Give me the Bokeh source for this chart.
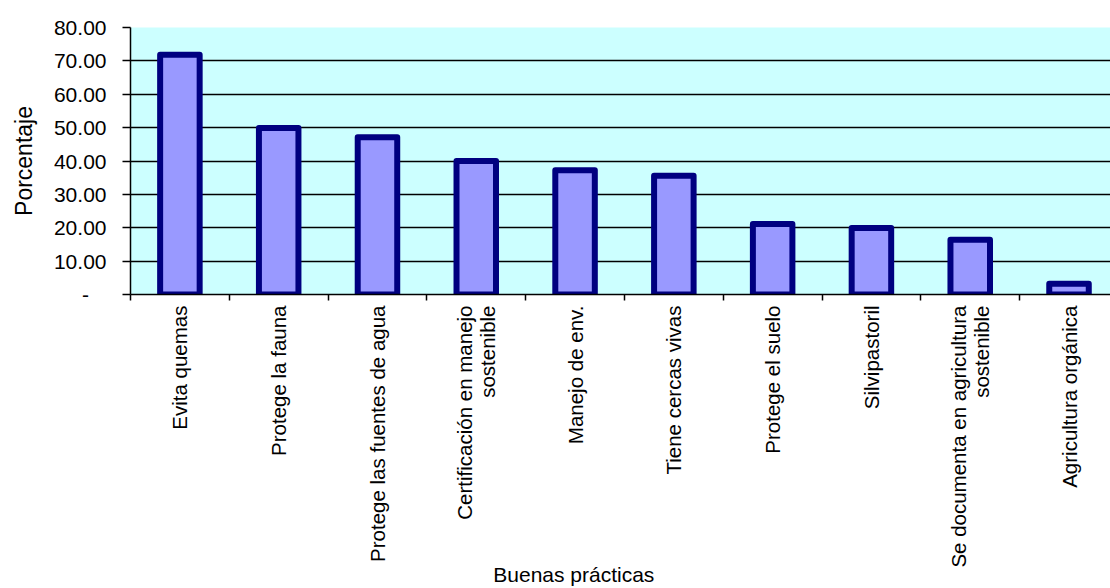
import math

from bokeh.embed import file_html
from bokeh.models import FixedTicker, NumeralTickFormatter, Range1d
from bokeh.plotting import figure
from bokeh.resources import INLINE

# Buenas prácticas adoptadas (porcentaje de fincas)
categories = [
    "Evita quemas",
    "Protege la fauna",
    "Protege las fuentes de agua",
    "Certificación en manejo\nsostenible",
    "Manejo de env.",
    "Tiene cercas vivas",
    "Protege el suelo",
    "Silvipastoril",
    "Se documenta en agricultura\nsostenible",
    "Agricultura orgánica",
]
values = [71.8, 49.9, 47.1, 40.0, 37.2, 35.6, 21.1, 19.9, 16.4, 3.2]
y_ticks = [0, 10, 20, 30, 40, 50, 60, 70, 80]
grid_ticks = [10, 20, 30, 40, 50, 60, 70]

FONT = "Liberation Sans"

# bars sit at the middle of each category slot; tick marks fall on the slot edges
centers = [i + 0.5 for i in range(len(categories))]
edges = list(range(len(categories) + 1))

p = figure(
    width=1110,
    height=588,
    x_range=Range1d(0, 9.92),
    y_range=Range1d(0, 80),
    output_backend="svg",
    toolbar_location=None,
    min_border_left=130,
    min_border_right=0,
    min_border_top=27,
    min_border_bottom=292,
    background_fill_color="#CCFFFF",
    border_fill_color="white",
    outline_line_color=None,
)

p.vbar(
    x=centers,
    top=values,
    bottom=0,
    width=0.4,
    fill_color="#9999FF",
    line_color="#000080",
    line_width=6,
    line_join="round",
)

# horizontal gridlines
p.xgrid.visible = False
p.ygrid.ticker = FixedTicker(ticks=grid_ticks)
p.ygrid.grid_line_color = "black"
p.ygrid.grid_line_width = 1.5

# y axis
yax = p.yaxis[0]
yax.ticker = FixedTicker(ticks=y_ticks)
yax.formatter = NumeralTickFormatter(format="0.00")
yax.major_label_overrides = {0: "-\u00a0\u00a0\u00a0"}
yax.major_label_text_font = FONT
yax.major_label_text_font_size = "21px"
yax.major_label_text_color = "black"
yax.major_label_standoff = 16
yax.major_tick_out = 8
yax.major_tick_in = 0
yax.minor_tick_line_color = None
yax.axis_line_color = "black"
yax.axis_line_width = 1.5
yax.major_tick_line_color = "black"
yax.major_tick_line_width = 1.5
yax.axis_label = "Porcentaje"
yax.axis_label_text_font = FONT
yax.axis_label_text_font_size = "23px"
yax.axis_label_text_font_style = "normal"
yax.axis_label_text_color = "black"
yax.axis_label_standoff = 14

# x axis: vertical category labels, tick marks between categories
xax = p.xaxis[0]
xax.ticker = FixedTicker(ticks=centers, minor_ticks=edges)
xax.major_label_overrides = {c: lab for c, lab in zip(centers, categories)}
xax.major_label_orientation = math.pi / 2
xax.major_label_text_font = FONT
xax.major_label_text_font_size = "20.5px"
xax.major_label_text_color = "black"
xax.major_label_text_line_height = 1.0
xax.major_label_standoff = 5
xax.major_tick_line_color = None
xax.major_tick_out = 0
xax.major_tick_in = 0
xax.minor_tick_line_color = "black"
xax.minor_tick_line_width = 1.5
xax.minor_tick_out = 6
xax.minor_tick_in = 0
xax.axis_line_color = "black"
xax.axis_line_width = 1.5
# the title sits left of the frame centre: trailing no-break spaces shift it over
xax.axis_label = "Buenas prácticas" + "\u00a0" * 16
xax.axis_label_text_font = FONT
xax.axis_label_text_font_size = "21px"
xax.axis_label_text_font_style = "normal"
xax.axis_label_text_color = "black"
xax.axis_label_standoff = -8

open("out.html", "w").write(file_html(p, INLINE))
